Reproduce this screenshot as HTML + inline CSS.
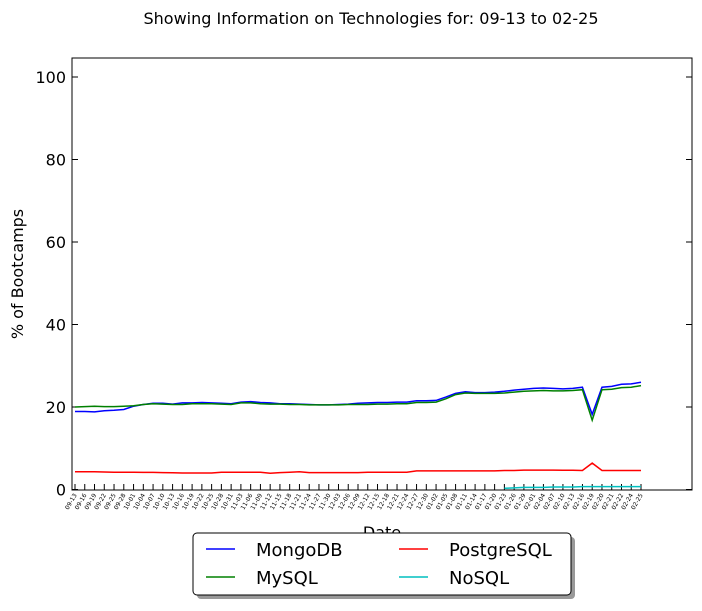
<!DOCTYPE html>
<html><head><meta charset="utf-8"><style>
body{margin:0;background:#fff;font-family:"Liberation Sans","DejaVu Sans",sans-serif}
svg text{font-family:"DejaVu Sans","Liberation Sans",sans-serif}
</style></head><body>
<svg id="chart" width="702" height="606" xmlns="http://www.w3.org/2000/svg">
<text x="371" y="24" font-size="16" text-anchor="middle">Showing Information on Technologies for: 09-13 to 02-25</text>
<rect x="72" y="58" width="620" height="432" fill="none" stroke="#000" stroke-width="1"/>
<g id="yaxis"></g>
<g id="xaxis"></g>
<g id="series"></g>
<text x="0" y="0" font-size="16" text-anchor="middle" transform="translate(23,274) rotate(-90)">% of Bootcamps</text>
<text x="382" y="538" font-size="16" text-anchor="middle">Date</text>
<g>
<rect x="197" y="537" width="378" height="62" rx="4" fill="#555" opacity="0.6"/>
<rect x="193" y="533" width="378" height="62" rx="4" fill="#fff" stroke="#000" stroke-width="1"/>
<g><line x1="206" y1="549" x2="235" y2="549" stroke="#0000ff" stroke-width="1.5"/><text x="256" y="556" font-size="18">MongoDB</text></g>
<g><line x1="399" y1="549" x2="428" y2="549" stroke="#ff0000" stroke-width="1.5"/><text x="449" y="556" font-size="18">PostgreSQL</text></g>
<g><line x1="206" y1="577" x2="235" y2="577" stroke="#008000" stroke-width="1.5"/><text x="256" y="584" font-size="18">MySQL</text></g>
<g><line x1="399" y1="577" x2="428" y2="577" stroke="#00bfbf" stroke-width="1.5"/><text x="449" y="584" font-size="18">NoSQL</text></g>
</g>
</svg>
<script>
const yTicks=[0,20,40,60,80,100];
const mongo=[18.9,18.9,18.8,19.1,19.2,19.4,20.2,20.6,20.9,20.9,20.7,21,21,21.1,21,20.9,20.8,21.2,21.3,21.1,21,20.8,20.8,20.7,20.6,20.5,20.5,20.6,20.7,20.9,21,21.1,21.1,21.2,21.2,21.5,21.5,21.6,22.4,23.3,23.7,23.5,23.5,23.6,23.8,24.1,24.3,24.5,24.6,24.5,24.4,24.5,24.8,18.2,24.8,25,25.5,25.6,26];
const mysql=[20,20.1,20.2,20.1,20.1,20.2,20.3,20.6,20.8,20.7,20.6,20.6,20.8,20.8,20.8,20.7,20.6,21,21,20.8,20.7,20.7,20.6,20.6,20.5,20.5,20.5,20.5,20.6,20.6,20.6,20.7,20.7,20.8,20.8,21.1,21.1,21.2,22,23,23.4,23.3,23.3,23.3,23.4,23.6,23.8,23.9,24,23.9,23.9,24,24.2,16.8,24.2,24.3,24.7,24.8,25.2];
const postgres=[4.3,4.3,4.3,4.25,4.2,4.2,4.2,4.15,4.15,4.1,4.05,4,4,4,4,4.2,4.2,4.2,4.2,4.2,3.95,4.1,4.2,4.3,4.1,4.1,4.1,4.1,4.1,4.1,4.2,4.2,4.2,4.2,4.2,4.5,4.5,4.5,4.5,4.5,4.5,4.5,4.5,4.5,4.6,4.6,4.7,4.7,4.7,4.7,4.65,4.65,4.6,6.4,4.6,4.6,4.6,4.6,4.6];
const nosql=[null,null,null,null,null,null,null,null,null,null,null,null,null,null,null,null,null,null,null,null,null,null,null,null,null,null,null,null,null,null,null,null,null,null,null,null,null,null,null,null,null,null,null,null,0.3,0.4,0.5,0.5,0.5,0.6,0.6,0.6,0.7,0.7,0.7,0.7,0.7,0.7,0.7];
const dateLabels=["09-13","09-16","09-19","09-22","09-25","09-28","10-01","10-04","10-07","10-10","10-13","10-16","10-19","10-22","10-25","10-28","10-31","11-03","11-06","11-09","11-12","11-15","11-18","11-21","11-24","11-27","11-30","12-03","12-06","12-09","12-12","12-15","12-18","12-21","12-24","12-27","12-30","01-02","01-05","01-08","01-11","01-14","01-17","01-20","01-23","01-26","01-29","02-01","02-04","02-07","02-10","02-13","02-16","02-19","02-20","02-21","02-22","02-24","02-25"];
const NS="http://www.w3.org/2000/svg";
const x0=75,x1=641,yb=489.5,yt=77;
function X(i){return x0+(x1-x0)*i/(mongo.length-1);}
function Y(v){return yb-(yb-yt)*v/100;}
function mk(t,a,p){const e=document.createElementNS(NS,t);for(const k in a)e.setAttribute(k,a[k]);p.appendChild(e);return e;}
const ya=document.getElementById('yaxis');
yTicks.forEach(v=>{
 const l=mk('line',{x1:72,x2:78,y1:Y(v),y2:Y(v),stroke:'#000'},ya);
 
 
 const r=mk('line',{x1:686,x2:692,y1:Y(v),y2:Y(v),stroke:'#000'},ya);
 
 
 const t=mk('text',{x:66,y:Y(v)+6,'font-size':16,'text-anchor':'end'},ya);
 t.textContent=v;
 
 
});
const xa=document.getElementById('xaxis');
dateLabels.forEach((d,i)=>{
 const l=mk('line',{x1:X(i),x2:X(i),y1:490,y2:484,stroke:'#000'},xa);
 
 
 const t=mk('text',{x:0,y:0,'font-size':6,'text-anchor':'end',transform:`translate(${X(i)+2},${495}) rotate(-60)`},xa);
 t.textContent=d;
 
 
});
const sg=document.getElementById('series');
function line(arr,col,name){
 let d='';let pen=false;
 arr.forEach((v,i)=>{if(v==null){pen=false;return;}d+=(pen?'L':'M')+X(i).toFixed(1)+' '+Y(v).toFixed(1)+' ';pen=true;});
 const p=mk('path',{d:d,fill:'none',stroke:col,'stroke-width':1.5},sg);
 
 
}
line(mongo,'#0000ff','mongodb-line');
line(mysql,'#008000','mysql-line');
line(postgres,'#ff0000','postgresql-line');
line(nosql,'#00bfbf','nosql-line');
</script>
</body></html>
